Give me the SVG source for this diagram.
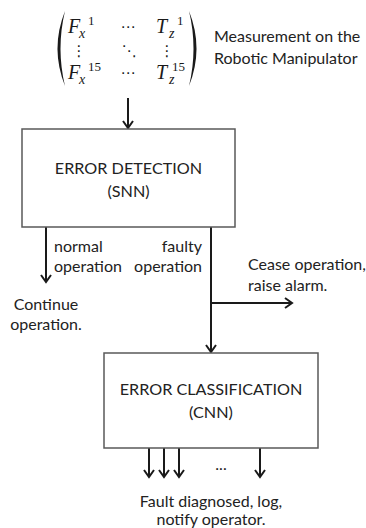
<svg xmlns="http://www.w3.org/2000/svg" width="366" height="528" viewBox="0 0 366 528">
<defs>
<style>
.t{font-family:Lato,"Liberation Sans",sans-serif;font-size:16px;fill:#222222}
.b{font-family:Lato,"Liberation Sans",sans-serif;font-size:16.2px;fill:#222222}
.m{font-family:"Liberation Serif",serif;font-style:italic;font-size:20px;fill:#1a1a1a}
.s{font-family:"Liberation Serif",serif;font-size:13px;fill:#1a1a1a}
.si{font-family:"Liberation Serif",serif;font-style:italic;font-size:14px;fill:#1a1a1a}
.d{font-family:"DejaVu Sans",sans-serif;font-size:15px;fill:#1a1a1a}
.box{fill:#ffffff;stroke:#595959;stroke-width:1.5}
.c{stroke:#1a1a1a;stroke-width:2;fill:none}
</style>
<marker id="ah" markerUnits="userSpaceOnUse" markerWidth="12" markerHeight="12" viewBox="0 0 12 12" refX="9" refY="6" orient="auto">
<path d="M2,1 L9,6 L2,11" fill="none" stroke="#1a1a1a" stroke-width="2"/>
</marker>
</defs>
<rect width="366" height="528" fill="#ffffff"/>

<g id="measurement">
<path d="M65,11 Q50,48.5 65,86 Q56,48.5 65,11 Z" fill="#1a1a1a"/>
<path d="M189,11 Q204,48.5 189,86 Q198,48.5 189,11 Z" fill="#1a1a1a"/>
<text class="m" x="68" y="33">F</text><text class="s" x="88" y="25">1</text><text class="si" x="79" y="38">x</text>
<text class="d" x="128" y="32" text-anchor="middle">⋯</text>
<text class="m" x="156" y="33">T</text><text class="s" x="177" y="25">1</text><text class="si" x="169" y="38">z</text>
<text class="d" x="79" y="56" text-anchor="middle">⋮</text>
<text class="d" x="129" y="56" text-anchor="middle">⋱</text>
<text class="d" x="167" y="56" text-anchor="middle">⋮</text>
<text class="m" x="68" y="79">F</text><text class="s" x="88" y="71">15</text><text class="si" x="79" y="84">x</text>
<text class="d" x="128" y="78" text-anchor="middle">⋯</text>
<text class="m" x="156" y="79">T</text><text class="s" x="172" y="71">15</text><text class="si" x="169" y="84">z</text>
<text class="t" x="214" y="42">Measurement on the</text>
<text class="t" x="214" y="64">Robotic Manipulator</text>
</g>

<g id="connectors">
<line class="c" x1="128" y1="98" x2="128" y2="128" marker-end="url(#ah)"/>
<line class="c" x1="46" y1="227" x2="46" y2="282" marker-end="url(#ah)"/>
<line class="c" x1="211" y1="227" x2="211" y2="352" marker-end="url(#ah)"/>
<line class="c" x1="211" y1="303" x2="292" y2="303" marker-end="url(#ah)"/>
<line class="c" x1="149" y1="448" x2="149" y2="477" marker-end="url(#ah)"/>
<line class="c" x1="164" y1="448" x2="164" y2="477" marker-end="url(#ah)"/>
<line class="c" x1="179" y1="448" x2="179" y2="477" marker-end="url(#ah)"/>
<line class="c" x1="260" y1="448" x2="260" y2="477" marker-end="url(#ah)"/>
</g>

<g id="error-detection">
<rect class="box" x="22" y="129" width="213" height="98"/>
<text class="b" x="128.5" y="174" text-anchor="middle">ERROR DETECTION</text>
<text class="b" x="128.5" y="197" text-anchor="middle">(SNN)</text>
</g>

<g id="labels">
<text class="t" x="54" y="252">normal</text>
<text class="t" x="54" y="272">operation</text>
<text class="t" x="202" y="252" text-anchor="end">faulty</text>
<text class="t" x="202" y="272" text-anchor="end">operation</text>
<text class="t" x="248" y="270">Cease operation,</text>
<text class="t" x="248" y="291">raise alarm.</text>
</g>

<g id="continue">
<text class="t" x="46" y="310" text-anchor="middle">Continue</text>
<text class="t" x="46" y="330" text-anchor="middle">operation.</text>
</g>

<g id="error-classification">
<rect class="box" x="104" y="353" width="214" height="95"/>
<text class="b" x="211" y="395" text-anchor="middle">ERROR CLASSIFICATION</text>
<text class="b" x="211" y="418" text-anchor="middle">(CNN)</text>
</g>

<g id="outcome">
<text class="t" x="221" y="470" text-anchor="middle">...</text>
<text class="t" x="211" y="507" text-anchor="middle">Fault diagnosed, log,</text>
<text class="t" x="211" y="525" text-anchor="middle">notify operator.</text>
</g>
</svg>
